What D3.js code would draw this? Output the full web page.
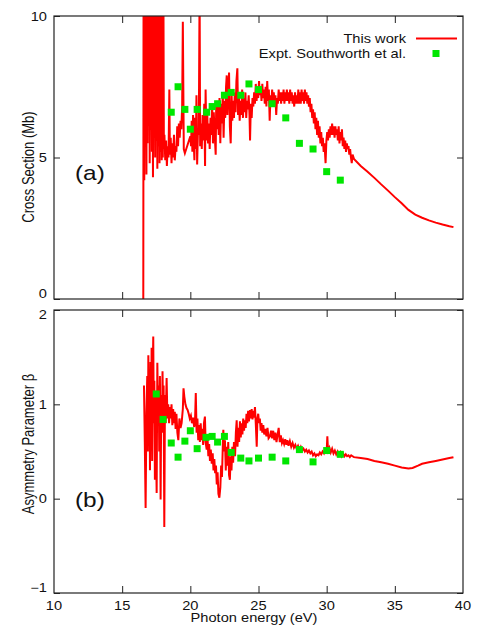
<!DOCTYPE html>
<html>
<head>
<meta charset="utf-8">
<script src="https://cdn.jsdelivr.net/npm/d3@7"></script>
<style>
  body { margin: 0; background: #fff; }
  text { font-family: "Liberation Sans", Arial, sans-serif; fill: #111; }
</style>
</head>
<body>
<div id="chart"></div>
<script>
// theory: [photon energy (eV), value]
var csTheory = [
  [16.55,0],[16.57,12],[16.62,4.2],[16.66,12],[16.70,6.5],[16.74,12],[16.78,4.4],[16.82,12],
  [16.86,5.5],[16.90,12],[16.94,7.0],[16.98,12],[17.02,4.8],[17.06,12],[17.10,6.0],[17.14,12],
  [17.18,5.2],[17.22,12],[17.26,4.3],[17.30,12],[17.34,6.8],[17.38,12],[17.42,5.0],[17.46,12],
  [17.50,5.6],[17.54,12],[17.58,4.6],[17.62,9.5],[17.66,5.4],[17.70,12],[17.74,4.8],[17.78,8.0],
  [17.82,5.2],[17.86,12],[17.90,4.9],[17.94,6.5],[17.98,5.0],[18.02,12],[18.06,5.3],[18.10,5.8],
  [18.16,4.9],[18.22,5.6],[18.28,4.7],[18.34,5.4],[18.40,5.0],[18.46,7.4],[18.50,5.1],[18.56,5.7],
  [18.62,4.8],[18.68,5.5],[18.74,5.0],[18.80,5.8],[18.86,4.9],[18.92,5.4],[18.98,5.2],[19.04,6.1],
  [19.10,5.4],[19.16,6.2],[19.22,5.7],[19.28,6.3],[19.34,6.0],[19.40,6.8],[19.45,9.8],[19.52,5.3],
  [19.60,5.15],[19.70,5.3],[19.80,5.45],[19.90,5.6],[20.00,5.75],[20.05,5.4],[20.10,6.3],[20.15,5.2],
  [20.20,6.5],[20.25,5.5],[20.30,4.9],[20.35,6.4],[20.40,5.3],[20.45,7.2],[20.50,4.75],[20.55,5.8],
  [20.62,5.9],[20.68,11],[20.72,5.4],[20.78,6.2],[20.84,5.3],[20.90,6.5],[20.96,5.6],[21.02,6.9],
  [21.08,4.7],[21.12,7.4],[21.18,5.6],[21.24,6.6],[21.30,5.5],[21.36,6.2],[21.42,5.3],[21.48,6.4],
  [21.54,5.8],[21.60,6.9],[21.66,5.5],[21.72,6.6],[21.78,5.9],[21.86,5.1],[21.90,7.0],[21.96,6.0],
  [22.02,6.8],[22.08,5.8],[22.14,7.1],[22.20,5.5],[22.26,6.9],[22.32,6.2],[22.38,7.3],[22.44,5.7],
  [22.50,7.0],[22.56,6.4],[22.62,7.5],[22.67,7.9],[22.72,6.5],[22.78,7.4],[22.84,8.0],[22.90,6.1],
  [22.96,5.5],[23.03,7.2],[23.08,6.3],[23.14,7.0],[23.20,6.4],[23.26,7.3],[23.32,6.6],[23.38,7.7],
  [23.45,8.15],[23.50,6.5],[23.56,7.2],[23.62,6.3],[23.68,7.0],[23.74,6.5],[23.80,7.4],[23.86,6.4],
  [23.92,7.1],[23.98,6.6],[24.04,7.3],[24.10,6.4],[24.16,7.0],[24.22,6.7],[24.28,7.2],[24.34,6.5],
  [24.38,5.6],[24.44,6.9],[24.50,6.4],[24.56,7.1],[24.62,6.8],[24.68,7.3],[24.74,6.9],[24.80,7.6],
  [24.86,7.0],[24.92,7.5],[24.98,7.1],[25.04,7.7],[25.10,7.2],[25.16,7.5],[25.22,7.0],[25.28,7.6],
  [25.34,7.1],[25.40,7.4],[25.46,6.9],[25.52,7.5],[25.58,6.8],[25.64,7.7],[25.70,7.0],[25.76,7.4],
  [25.82,6.3],[25.88,7.2],[25.94,6.9],[26.00,7.4],[26.06,7.0],[26.12,7.3],[26.18,6.9],[26.24,7.2],
  [26.30,6.5],[26.36,7.1],[26.42,6.9],[26.48,7.4],[26.54,7.0],[26.60,7.3],[26.66,6.9],[26.72,7.3],
  [26.78,7.0],[26.84,7.4],[26.90,6.9],[26.96,7.3],[27.02,7.0],[27.08,7.4],[27.14,7.0],[27.20,7.3],
  [27.26,6.9],[27.32,7.4],[27.38,7.0],[27.44,7.3],[27.50,6.9],[27.56,7.2],[27.62,6.8],[27.68,7.3],
  [27.74,6.9],[27.80,7.2],[27.86,6.9],[27.92,7.4],[27.98,6.9],[28.04,7.3],[28.10,6.9],[28.16,7.4],
  [28.22,7.0],[28.28,7.3],[28.34,6.9],[28.40,7.4],[28.46,7.0],[28.52,7.3],[28.58,6.9],[28.64,7.2],
  [28.70,6.8],[28.76,7.1],[28.82,6.6],[28.88,6.9],[28.94,6.4],[29.00,6.7],[29.06,6.2],[29.12,6.6],
  [29.18,6.0],[29.24,6.4],[29.30,5.8],[29.36,6.3],[29.42,5.7],[29.48,6.1],[29.54,5.5],[29.60,5.9],
  [29.66,5.4],[29.72,5.7],[29.78,5.2],[29.84,5.5],[29.92,4.8],[29.98,5.6],[30.04,5.9],[30.10,5.6],
  [30.16,6.0],[30.22,5.7],[30.28,6.1],[30.34,5.8],[30.40,6.2],[30.46,5.8],[30.52,6.1],[30.58,5.7],
  [30.64,6.1],[30.70,5.8],[30.76,6.0],[30.82,5.6],[30.88,6.1],[30.94,5.5],[31.00,5.9],[31.06,5.6],
  [31.12,6.0],[31.18,5.4],[31.24,5.7],[31.30,5.3],[31.36,5.6],[31.42,5.2],[31.48,5.5],[31.54,5.3],
  [31.60,5.4],[31.66,5.1],[31.72,5.3],[31.78,5.0],[31.84,4.8],[31.90,5.1],[32.00,4.95],[32.5,4.7],
  [33.0,4.5],[33.5,4.28],[34.0,4.05],[34.5,3.83],[35.0,3.6],[35.5,3.38],[36.0,3.15],[36.5,2.98],
  [37.0,2.87],[37.5,2.78],[38.0,2.7],[38.5,2.63],[39.0,2.57],[39.3,2.54]
];

var betaTheory = [
  [16.60,1.2],[16.66,0.6],[16.72,-0.1],[16.78,0.9],[16.84,1.3],[16.88,0.5],[16.92,1.52],[16.96,0.9],
  [17.00,1.35],[17.04,0.3],[17.08,1.45],[17.12,0.7],[17.16,1.6],[17.20,0.4],[17.24,1.3],[17.28,1.72],
  [17.32,0.8],[17.36,1.25],[17.40,0.2],[17.44,1.1],[17.48,0.6],[17.53,0.06],[17.58,1.44],[17.63,0.9],
  [17.68,1.2],[17.72,0.5],[17.77,1.3],[17.82,-0.01],[17.87,1.1],[17.92,0.7],[17.96,1.35],[18.00,0.9],
  [18.04,1.2],[18.09,-0.3],[18.14,1.1],[18.19,0.8],[18.26,1.28],[18.32,0.85],[18.38,1.0],[18.44,0.8],
  [18.50,0.97],[18.56,0.85],[18.62,1.0],[18.68,0.78],[18.74,0.95],[18.80,0.8],[18.86,0.92],[18.92,0.74],
  [18.98,0.9],[19.05,0.7],[19.12,0.62],[19.20,0.85],[19.28,0.75],[19.36,0.8],[19.45,0.95],[19.50,1.17],
  [19.56,1.08],[19.64,1.0],[19.72,0.96],[19.80,0.94],[19.88,0.9],[19.96,0.85],[20.04,0.88],[20.12,0.8],
  [20.20,0.86],[20.28,0.76],[20.34,0.8],[20.40,1.12],[20.46,0.7],[20.52,0.85],[20.58,0.62],[20.64,0.78],
  [20.70,0.6],[20.76,0.8],[20.82,0.62],[20.88,0.74],[20.94,0.57],[21.00,0.8],[21.07,0.87],[21.12,0.6],
  [21.20,0.52],[21.26,0.65],[21.32,0.45],[21.38,0.58],[21.44,0.4],[21.50,0.52],[21.57,0.37],[21.64,0.48],
  [21.70,0.3],[21.76,0.42],[21.82,0.27],[21.88,0.35],[21.94,0.15],[22.00,0.28],[22.06,0.05],[22.13,0.01],
  [22.20,0.12],[22.26,0.35],[22.32,0.23],[22.38,0.55],[22.42,0.73],[22.48,0.5],[22.54,0.62],[22.60,0.3],
  [22.66,0.55],[22.72,0.35],[22.78,0.6],[22.84,0.25],[22.90,0.2],[22.96,0.45],[23.02,0.3],[23.08,0.55],
  [23.14,0.38],[23.20,0.6],[23.28,0.45],[23.34,0.7],[23.40,0.83],[23.46,0.55],[23.52,0.75],[23.58,0.6],
  [23.64,0.82],[23.70,0.65],[23.76,0.8],[23.82,0.68],[23.88,0.85],[23.94,0.72],[24.00,0.83],[24.06,0.75],
  [24.12,0.9],[24.18,0.8],[24.24,0.93],[24.30,0.82],[24.38,0.94],[24.44,0.85],[24.50,0.95],[24.56,0.84],
  [24.62,0.93],[24.68,0.86],[24.74,0.97],[24.80,0.8],[24.87,0.55],[24.92,0.85],[24.98,0.9],[25.04,0.8],
  [25.10,0.85],[25.16,0.72],[25.22,0.8],[25.28,0.7],[25.35,0.78],[25.42,0.68],[25.50,0.74],[25.58,0.66],
  [25.66,0.75],[25.74,0.64],[25.84,0.66],[25.92,0.72],[26.00,0.64],[26.08,0.72],[26.16,0.62],[26.24,0.7],
  [26.32,0.6],[26.40,0.68],[26.48,0.75],[26.56,0.6],[26.64,0.67],[26.72,0.59],[26.80,0.62],[26.88,0.58],
  [26.96,0.63],[27.04,0.57],[27.12,0.62],[27.20,0.56],[27.30,0.61],[27.40,0.55],[27.50,0.59],[27.60,0.54],
  [27.70,0.57],[27.80,0.53],[27.90,0.56],[28.00,0.52],[28.10,0.55],[28.20,0.51],[28.30,0.53],[28.40,0.5],
  [28.50,0.52],[28.60,0.49],[28.70,0.51],[28.80,0.48],[28.90,0.5],[29.00,0.46],[29.10,0.48],[29.20,0.45],
  [29.30,0.47],[29.40,0.46],[29.50,0.49],[29.60,0.47],[29.70,0.5],[29.80,0.48],[29.90,0.52],[30.00,0.5],
  [30.05,0.66],[30.10,0.5],[30.20,0.54],[30.30,0.49],[30.40,0.53],[30.50,0.48],[30.60,0.51],[30.70,0.47],
  [30.80,0.5],[30.90,0.46],[31.00,0.49],[31.10,0.45],[31.20,0.48],[31.30,0.45],[31.40,0.47],[31.50,0.45],
  [31.60,0.46],[31.70,0.44],[31.80,0.46],[31.90,0.45],[32.00,0.44],[32.5,0.43],[33.0,0.42],[33.5,0.4],
  [34.0,0.385],[34.5,0.37],[35.0,0.35],[35.5,0.33],[36.0,0.32],[36.3,0.325],[36.7,0.35],[37.0,0.37],
  [37.5,0.385],[38.0,0.4],[38.5,0.415],[39.0,0.43],[39.3,0.44]
];

// experiment (Southworth et al.)
var csExptE = [18.6, 19.1, 19.6, 20.0, 20.5, 21.2, 21.6, 22.0, 22.5, 23.0, 23.7, 24.3, 25.0, 26.0, 27.0, 28.0, 29.0, 30.0, 31.0];
var csExpt  = [6.6, 7.5, 6.7, 6.0, 6.7, 6.6, 6.8, 6.9, 7.2, 7.3, 7.2, 7.6, 7.4, 6.9, 6.4, 5.5, 5.3, 4.5, 4.2];

var betaExptE = [17.5, 18.0, 18.6, 19.1, 19.6, 20.0, 20.5, 21.15, 21.6, 22.0, 22.5, 23.0, 23.7, 24.3, 25.0, 26.0, 27.0, 28.0, 29.0, 30.0, 31.0];
var betaExpt  = [1.11, 0.84, 0.59, 0.44, 0.61, 0.72, 0.53, 0.65, 0.66, 0.6, 0.66, 0.49, 0.43, 0.4, 0.43, 0.44, 0.4, 0.52, 0.39, 0.51, 0.47];

var xTicks = [10, 15, 20, 25, 30, 35, 40];
var csTicks = [0, 5, 10];
var betaTicks = [-1, 0, 1, 2];

var W = 486, H = 629;
var left = 54, right = 463;
var panels = [
  { top: 16, bottom: 299, domain: [0, 10], ticks: csTicks, theory: csTheory, ex: csExptE, ey: csExpt,
    ylabel: "Cross Section (Mb)", ylabelY: 167, tag: "(a)", tagY: 180, xlabels: false, legend: true,
    lowShift: -5, highShift: 1 },
  { top: 310, bottom: 593, domain: [-1, 2], ticks: betaTicks, theory: betaTheory, ex: betaExptE, ey: betaExpt,
    ylabel: "Asymmetry Parameter β", ylabelY: 444, tag: "(b)", tagY: 507, xlabels: true, legend: false,
    lowShift: -5, highShift: 5 }
];
var stretch = 1.22; // glyphs in the reference are wider than they are tall

var svg = d3.select("#chart")
    .append("svg")
    .attr("width", W)
    .attr("height", H);

var x = d3.scaleLinear().domain([10, 40]).range([left, right]);

panels.forEach(function (p, i) {
    var y = d3.scaleLinear().domain(p.domain).range([p.bottom, p.top]);
    var g = svg.append("g");

    svg.append("clipPath")
        .attr("id", "clip" + i)
        .append("rect")
        .attr("x", left).attr("y", p.top)
        .attr("width", right - left).attr("height", p.bottom - p.top);

    // inward ticks on all four sides
    var inner = xTicks.slice(1, -1);
    var ax = [
        { a: d3.axisBottom(x).tickValues(inner).tickSize(-7).tickFormat(""), t: "translate(0," + p.bottom + ")" },
        { a: d3.axisTop(x).tickValues(inner).tickSize(-7).tickFormat(""), t: "translate(0," + p.top + ")" },
        { a: d3.axisLeft(y).tickValues(p.ticks).tickSize(-6).tickFormat(""), t: "translate(" + left + ",0)" },
        { a: d3.axisRight(y).tickValues(p.ticks).tickSize(-6).tickFormat(""), t: "translate(" + right + ",0)" }
    ];
    ax.forEach(function (d) {
        var ag = g.append("g").attr("transform", d.t).call(d.a);
        ag.select(".domain").remove();
        ag.selectAll("line").attr("stroke", "#222");
    });

    // y tick labels (end labels nudged inward so the two panels do not collide)
    g.selectAll(".ylab")
        .data(p.ticks)
        .enter().append("text")
        .attr("text-anchor", "end")
        .attr("font-size", 12)
        .attr("dy", "0.35em")
        .attr("transform", function (d) {
            var yy = y(d);
            if (d === p.domain[0]) yy += p.lowShift;
            if (d === p.domain[1]) yy += p.highShift;
            return "translate(" + (left - 7) + "," + yy + ") scale(" + stretch + ",1)";
        })
        .text(d3.format(""));

    if (p.xlabels) {
        g.selectAll(".xlab")
            .data(xTicks)
            .enter().append("text")
            .attr("text-anchor", "middle")
            .attr("font-size", 12)
            .attr("transform", function (d) { return "translate(" + x(d) + "," + (p.bottom + 17) + ") scale(" + stretch + ",1)"; })
            .text(function (d) { return d; });
    }

    // theory line
    var line = d3.line()
        .x(function (d) { return x(d[0]); })
        .y(function (d) { return y(d[1]); });

    g.append("path")
        .datum(p.theory)
        .attr("clip-path", "url(#clip" + i + ")")
        .attr("fill", "none")
        .attr("stroke", "#ff0000")
        .attr("stroke-width", 2)
        .attr("d", line);

    // experiment squares
    g.selectAll(".pt")
        .data(p.ex)
        .enter().append("rect")
        .attr("x", function (d) { return x(d) - 3.5; })
        .attr("y", function (d, k) { return y(p.ey[k]) - 3.5; })
        .attr("width", 7)
        .attr("height", 7)
        .attr("fill", "#00e600");

    // frame
    g.append("rect")
        .attr("x", left).attr("y", p.top)
        .attr("width", right - left).attr("height", p.bottom - p.top)
        .attr("fill", "none")
        .attr("stroke", "#222")
        .attr("stroke-width", 1.2);

    // y label
    g.append("text")
        .attr("text-anchor", "middle")
        .attr("font-size", 13)
        .attr("transform", "translate(34," + p.ylabelY + ") scale(" + stretch + ",1) rotate(-90)")
        .text(p.ylabel);

    // panel tag
    g.append("text")
        .attr("font-size", 20)
        .attr("transform", "translate(75," + p.tagY + ") scale(" + stretch + ",1)")
        .text(p.tag);

    if (p.legend) {
        g.append("text")
            .attr("text-anchor", "end")
            .attr("font-size", 12)
            .attr("transform", "translate(406,43) scale(" + stretch + ",1)")
            .text("This work");
        g.append("line")
            .attr("x1", 416).attr("x2", 457)
            .attr("y1", 38.5).attr("y2", 38.5)
            .attr("stroke", "#ff0000")
            .attr("stroke-width", 2);
        g.append("text")
            .attr("text-anchor", "end")
            .attr("font-size", 12)
            .attr("transform", "translate(406,57.5) scale(" + stretch + ",1)")
            .text("Expt. Southworth et al.");
        g.append("rect")
            .attr("x", 432.5).attr("y", 50)
            .attr("width", 7).attr("height", 7)
            .attr("fill", "#00e600");
    }
});

// x label
svg.append("text")
    .attr("text-anchor", "middle")
    .attr("font-size", 12)
    .attr("transform", "translate(254,622) scale(" + stretch + ",1)")
    .text("Photon energy (eV)");
</script>
</body>
</html>
